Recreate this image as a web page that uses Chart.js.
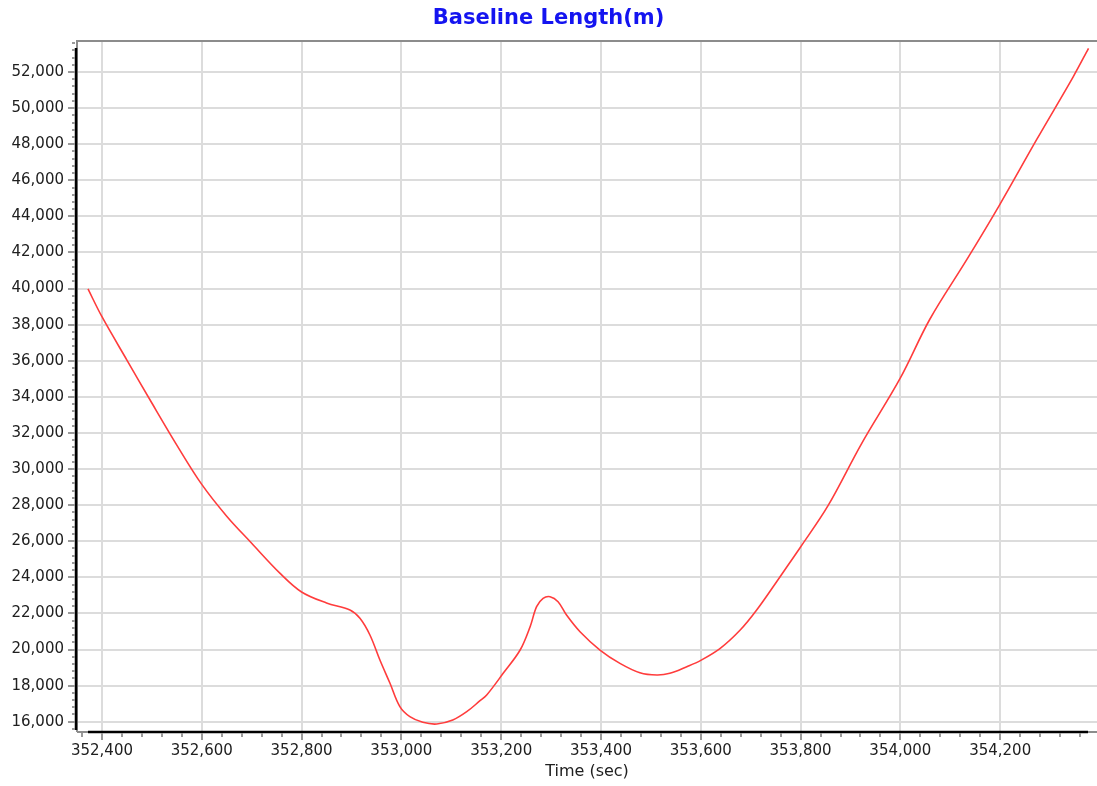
<!DOCTYPE html>
<html>
<head>
<meta charset="utf-8">
<script src="https://cdn.jsdelivr.net/npm/chart.js@4.4.0/dist/chart.umd.min.js"></script>
<style>
  html, body { margin: 0; padding: 0; background: #fff; }
</style>
</head>
<body>
<canvas id="grafico" width="1097" height="786"></canvas>
<script>
const tempos = [352372, 352400, 352450, 352500, 352550, 352600, 352650, 352700, 352757, 352800,
    352850, 352897, 352917, 352937, 352957, 352977, 352997, 353017, 353043, 353071,
    353103, 353131, 353157, 353171, 353204, 353238, 353258, 353271, 353284, 353298,
    353314, 353331, 353358, 353398, 353438, 353478, 353512, 353538, 353572, 353600,
    353639, 353679, 353712, 353752, 353772, 353800, 353855, 353922, 354000, 354059,
    354133, 354198, 354273, 354346, 354377];
const comprimentos = [39980, 38440, 36040, 33660, 31330, 29150, 27390, 25890, 24220, 23190,
    22580, 22190, 21730, 20805, 19420, 18144, 16832, 16278, 15967, 15873,
    16095, 16555, 17150, 17480, 18680, 19973, 21265, 22373, 22836, 22928,
    22650, 21912, 20988, 19973, 19234, 18714, 18586, 18680, 19049, 19400,
    20065, 21080, 22190, 23757, 24560, 25680, 27970, 31400, 35050, 38300,
    41600, 44600, 48250, 51720, 53310];
const ticksX = [352400, 352600, 352800, 353000, 353200, 353400, 353600, 353800, 354000, 354200];
const ticksY = [16000, 18000, 20000, 22000, 24000, 26000, 28000, 30000, 32000, 34000,
    36000, 38000, 40000, 42000, 44000, 46000, 48000, 50000, 52000];

const pontos = tempos.map((t, i) => ({ x: t, y: comprimentos[i] }));
const fmt = v => Number(v).toLocaleString('en-US');

// moldura, eixos pretos e marcas (maiores e menores)
const molduraPlugin = {
    id: 'moldura',
    afterDraw(chart) {
        const ctx = chart.ctx;
        const a = chart.chartArea;
        const sx = chart.scales.x;
        const sy = chart.scales.y;
        ctx.save();

        ctx.strokeStyle = '#8c8c8c';
        ctx.lineWidth = 2;
        ctx.beginPath();
        ctx.moveTo(a.left, a.bottom);
        ctx.lineTo(a.left, a.top);
        ctx.lineTo(a.right, a.top);
        ctx.moveTo(a.left, a.bottom);
        ctx.lineTo(a.right, a.bottom);
        ctx.stroke();

        ctx.strokeStyle = '#000';
        ctx.lineWidth = 2.5;
        ctx.beginPath();
        ctx.moveTo(a.left - 1, a.top + 7);
        ctx.lineTo(a.left - 1, a.bottom - 2);
        ctx.moveTo(a.left + 11, a.bottom);
        ctx.lineTo(a.right - 9, a.bottom);
        ctx.stroke();

        ctx.strokeStyle = '#9a9a9a';
        ctx.lineWidth = 2;
        ctx.beginPath();
        const passoY = ticksY[1] - ticksY[0];
        for (let v = ticksY[0] - passoY; v <= sy.max; v += passoY / 5) {
            if (v < sy.min) continue;
            const y = Math.round(sy.getPixelForValue(v));
            const maior = ticksY.includes(v);
            ctx.moveTo(a.left - (maior ? 9 : 5), y);
            ctx.lineTo(a.left - 2, y);
        }
        const passoX = ticksX[1] - ticksX[0];
        for (let v = ticksX[0] - passoX; v <= sx.max; v += passoX / 5) {
            if (v < sx.min) continue;
            const x = Math.round(sx.getPixelForValue(v));
            const maior = ticksX.includes(v);
            ctx.moveTo(x, a.bottom + 1);
            ctx.lineTo(x, a.bottom + (maior ? 8 : 5));
        }
        ctx.stroke();
        ctx.restore();
    }
};

const grafico = new Chart(document.getElementById('grafico'), {
    type: 'line',
    data: {
        datasets: [{
            data: pontos,
            borderColor: '#ff3c3c',
            borderWidth: 1.6,
            pointRadius: 0,
            fill: false,
            tension: 0.35
        }]
    },
    options: {
        responsive: false,
        animation: false,
        layout: { padding: 0 },
        plugins: {
            legend: { display: false },
            tooltip: { enabled: false },
            title: {
                display: true,
                text: 'Baseline Length(m)',
                color: '#1414f0',
                font: { family: 'DejaVu Sans', size: 21, weight: 'bold', lineHeight: 1 },
                padding: { top: 8, bottom: 12 }
            }
        },
        scales: {
            x: {
                type: 'linear',
                min: 352350,
                max: 354394,
                afterBuildTicks: s => { s.ticks = ticksX.map(v => ({ value: v })); },
                afterFit: s => { s.height = 54; },
                grid: { color: '#dcdcdc', lineWidth: 2, drawTicks: false },
                border: { display: false },
                ticks: {
                    padding: 10,
                    color: '#202020',
                    font: { family: 'DejaVu Sans', size: 15 },
                    maxRotation: 0,
                    autoSkip: false,
                    callback: v => fmt(v)
                },
                title: {
                    display: true,
                    text: 'Time (sec)',
                    color: '#202020',
                    font: { family: 'DejaVu Sans', size: 16 },
                    padding: { top: 0, bottom: 5 }
                }
            },
            y: {
                min: 15430,
                max: 53718,
                afterBuildTicks: s => { s.ticks = ticksY.map(v => ({ value: v })); },
                afterFit: s => { s.width = 77; },
                grid: { color: '#dcdcdc', lineWidth: 2, drawTicks: false },
                border: { display: false },
                ticks: {
                    padding: 13,
                    color: '#202020',
                    font: { family: 'DejaVu Sans', size: 15 },
                    autoSkip: false,
                    callback: v => fmt(v)
                }
            }
        }
    },
    plugins: [molduraPlugin]
});
</script>
</body>
</html>
